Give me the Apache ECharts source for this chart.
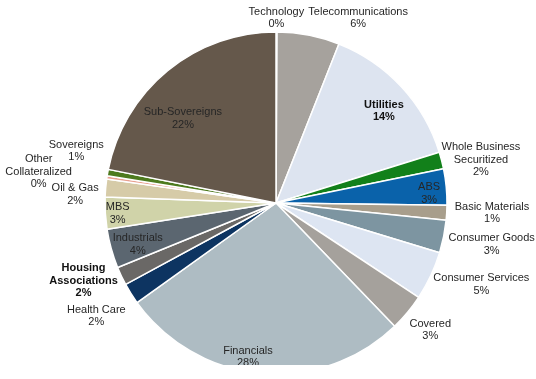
<!DOCTYPE html>
<html>
<head>
<meta charset="utf-8">
<script src="https://cdn.jsdelivr.net/npm/echarts@6/dist/echarts.min.js"></script>
<style>
html,body{margin:0;padding:0;background:#fff;}
#chart{width:536px;height:365px;}
</style>
</head>
<body>
<div id="chart"></div>
<script>
// Data (clockwise from 12 o'clock)
var categories = ["Technology","Telecommunications","Utilities","Whole Business\nSecuritized","ABS","Basic Materials","Consumer Goods","Consumer Services","Covered","Financials","Health Care","Housing\nAssociations","Industrials","MBS","Oil & Gas","Other\nCollateralized","Sovereigns","Sub-Sovereigns"];
var values = [0.1, 5.9, 14.2, 1.6, 3.4, 1.4, 3.1, 4.6, 3.5, 27.3, 2.0, 1.75, 3.7, 3.0, 1.7, 0.3, 0.6, 21.85];
var pctLabels = [0, 6, 14, 2, 3, 1, 3, 5, 3, 28, 2, 2, 4, 3, 2, 0, 1, 22];

// Styles
var colors = ["#5f5346","#a6a29d","#dde4f0","#12801a","#0a62aa","#a89e8c","#7d95a1","#dde5f2","#a5a19c","#aebcc3","#0d3461","#6a6866","#5b6670","#d0d3a9","#d6cba8","#e8a090","#4d7a1e","#65584b"];
var labelInside = [false,false,true,false,true,false,false,false,false,true,false,false,true,true,false,false,false,true];
var labelBold = [false,false,true,false,false,false,false,false,false,false,false,true,false,false,false,false,false,false];
var labelShift = [[-28,-10],[-1,-13],[43,-32],[-4,0],[65,-1],[4,0],[1,7],[-1,7],[-1,15],[-20,66],[-2,20],[0,3],[-53,18],[-70,5],[-3,7],[-31,-5],[0,-21],[-37,-16]];

var data = categories.map(function(name, i){
  return {
    name: name,
    value: values[i],
    itemStyle: {color: colors[i]},
    label: {position: labelInside[i] ? 'inside' : 'outside'}
  };
});

var chart = echarts.init(document.getElementById('chart'), null, {renderer:'canvas'});
chart.setOption({
  animation: false,
  backgroundColor: '#ffffff',
  series: [{
    type: 'pie',
    center: [276, 203],
    radius: 171,
    startAngle: 90,
    clockwise: true,
    avoidLabelOverlap: false,
    minShowLabelAngle: 0,
    itemStyle: {borderColor: '#ffffff', borderWidth: 1.5},
    labelLine: {show: false, length: 4, length2: 0},
    label: {
      show: true,
      distanceToLabelLine: 0,
      fontFamily: 'Liberation Sans',
      fontSize: 11,
      color: '#262626',
      formatter: function(p){
        var st = labelBold[p.dataIndex] ? 'b' : 'c';
        var lines = p.name.split('\n').concat([pctLabels[p.dataIndex] + '%']);
        return lines.map(function(l){ return '{' + st + '|' + l + '}'; }).join('\n');
      },
      rich: {
        c: {align: 'center', fontFamily: 'Liberation Sans', fontSize: 11, color: '#262626', lineHeight: 12.5},
        b: {align: 'center', fontFamily: 'Liberation Sans', fontSize: 11, fontWeight: 'bold', color: '#111111', lineHeight: 12.5}
      }
    },
    labelLayout: function(p){
      var s = labelShift[p.dataIndex];
      return {dx: s[0], dy: s[1]};
    },
    emphasis: {disabled: true},
    data: data
  }]
});
</script>
</body>
</html>
